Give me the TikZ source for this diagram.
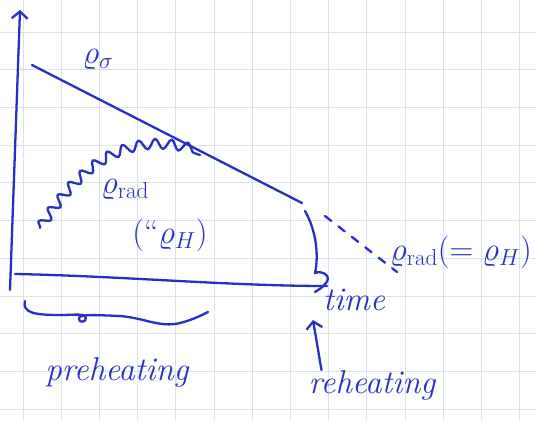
\RequirePackage{fix-cm}
\documentclass[tikz,border=0pt]{standalone}
\usepackage{amsmath,amssymb}
\usepackage{tikz}
\usetikzlibrary{arrows.meta,decorations.pathmorphing}

\definecolor{ink}{RGB}{38,48,196}
\definecolor{paperline}{RGB}{218,225,237}

\begin{document}
\begin{tikzpicture}[x=1pt,y=-1pt,>={Straight Barb[length=7pt,width=16pt]},
  pen/.style={draw=ink,line width=2.3pt,line cap=round,line join=round},
  hand/.style={text=ink,inner sep=0pt,font=\fontsize{33}{36}\selectfont},
  word/.style={hand,font=\fontsize{33}{36}\selectfont\itshape}]
  \useasboundingbox (0,0) rectangle (536,421);
  % ---------- squared paper
  \fill[white] (0,0) rectangle (536,421);
  \foreach \k in {0,...,13}
    \draw[paperline,line width=0.7pt] ({23+38.2*\k},0) -- ++(0,421);
  \foreach \k in {0,...,10}
    \draw[paperline,line width=0.7pt] (0,{32+37.7*\k}) -- ++(536,0);
  % ---------- axes
  \draw[pen,->] (10,290) -- (20,10);
  \draw[pen] (15,274) .. controls (120,276) and (230,286) .. (327,286);
  % ---------- energy densities
  \draw[pen] (32,65) -- (302,203);
  \draw[pen,decorate,decoration={snake,amplitude=5pt,segment length=16pt}]
    (40,228) .. controls (75,175) and (120,128) .. (200,155);
  \draw[pen] (305,211) .. controls (316,230) and (319,255) .. (315,273)
    .. controls (322,270) and (332,276) .. (326,283)
    .. controls (322,288) and (318,290) .. (315,292);
  \draw[pen,dash pattern=on 8pt off 9pt] (325,216) -- (397,272);
  % ---------- labels
  \node[hand] (lblsigma) at (98,60) {$\varrho_{\sigma}$};
  \node[hand] (lblrad) at (125,190) {$\varrho_{\mathrm{rad}}$};
  \node[hand] (lblH) at (170,235) {(``$\varrho_H$)};
  \node[hand] (lblright) at (461,252) {$\varrho_{\mathrm{rad}}(=\varrho_H)$};
  \node[word] (lbltime) at (354,300) {time};
  % ---------- stages
  \draw[pen] (25,301) .. controls (22,313) and (35,315) .. (60,315)
    .. controls (75,315) and (86,313) .. (86,318)
    .. controls (86,323) and (78,323) .. (79,318)
    .. controls (80,314) and (95,315) .. (120,316)
    .. controls (145,318) and (160,328) .. (180,323)
    .. controls (192,320) and (200,316) .. (208,312);
  \node[word] (lblpre) at (117,372) {preheating};
  \node[word] (lblre) at (372,385) {reheating};
  \coordinate (rehit) at (313,320);
  \draw[pen,->] ([xshift=13pt]lblre.north west) -- (rehit);
\end{tikzpicture}
\end{document}
